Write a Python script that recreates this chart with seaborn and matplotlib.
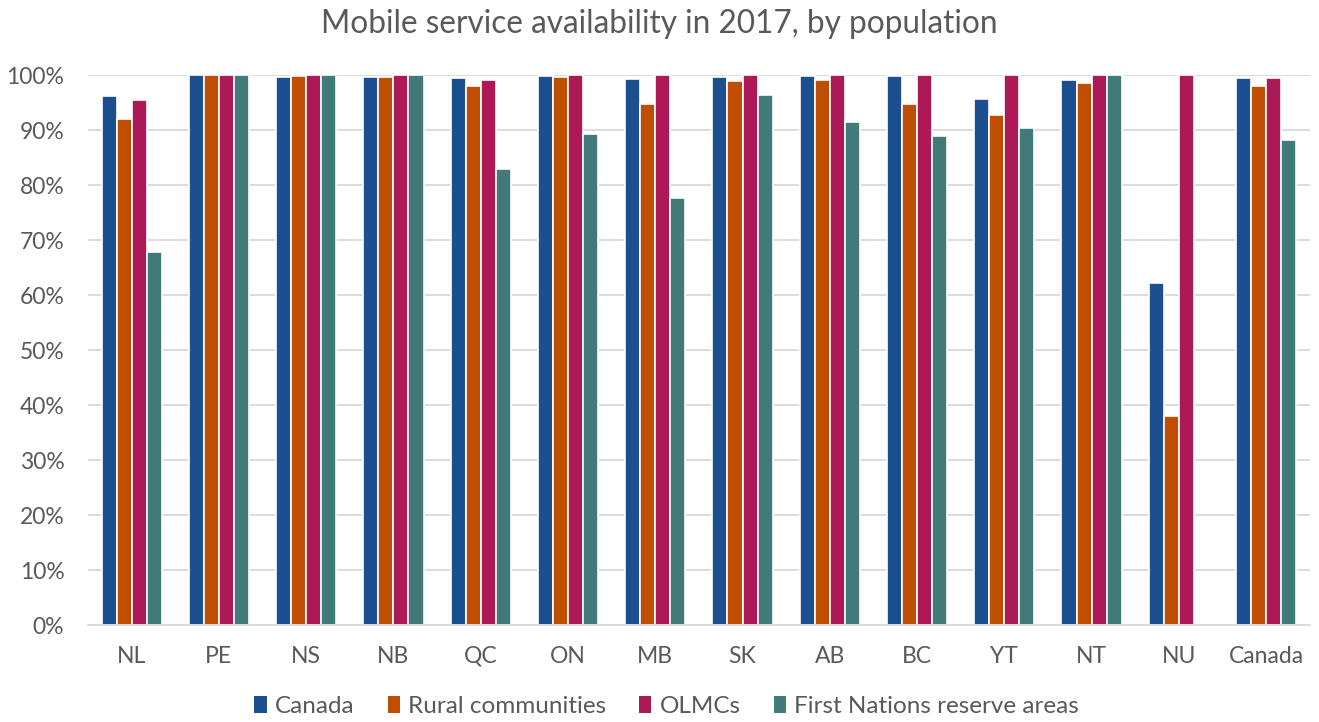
import numpy as np
import pandas as pd
import matplotlib
matplotlib.use("Agg")
import matplotlib.pyplot as plt
import seaborn as sns
from matplotlib.patches import Patch

# Provinces / territories and national total
regions = ["NL", "PE", "NS", "NB", "QC", "ON", "MB", "SK", "AB", "BC", "YT", "NT", "NU", "Canada"]

# Share of population with mobile service (%)
canada_pop = [96.2, 100.0, 99.7, 99.7, 99.4, 99.8, 99.2, 99.6, 99.9, 99.9, 95.6, 99.1, 62.2, 99.4]
rural_pop = [92.0, 100.0, 99.8, 99.6, 98.0, 99.6, 94.7, 99.0, 99.1, 94.8, 92.8, 98.6, 38.0, 98.0]
olmc_pop = [95.4, 100.0, 100.0, 100.0, 99.1, 100.0, 100.0, 100.0, 100.0, 100.0, 100.0, 100.0, 100.0, 99.5]
first_nations_pop = [67.9, 100.0, 100.0, 100.0, 82.9, 89.3, 77.6, 96.4, 91.5, 88.9, 90.4, 100.0, np.nan, 88.2]

series_names = ["Canada", "Rural communities", "OLMCs", "First Nations reserve areas"]
series_colors = ["#1B4F8F", "#BF4E00", "#AD1957", "#427A7A"]

df = pd.DataFrame({
    "region": regions * 4,
    "group": sum([[name] * len(regions) for name in series_names], []),
    "value": np.array(canada_pop + rural_pop + olmc_pop + first_nations_pop) / 100.0,
})

sns.set_theme(style="white")
plt.rcParams["font.family"] = ["Lato", "DejaVu Sans"]
text_color = "#595959"

fig = plt.figure(figsize=(13.19, 7.22), dpi=100)
ax = fig.add_axes([0.0667, 0.1343, 0.9263, 0.7617])

sns.barplot(data=df, x="region", y="value", hue="group", order=regions,
            hue_order=series_names, palette=series_colors, width=0.69,
            edgecolor="white", linewidth=1.2, saturation=1, ax=ax, legend=False)

ax.set_ylim(0, 1.0)
ax.set_xlim(-0.5, len(regions) - 0.5)
ax.set_yticks(np.arange(0, 1.01, 0.1))
ax.set_yticklabels([f"{int(round(v * 100))}%" for v in np.arange(0, 1.01, 0.1)])
ax.yaxis.grid(True, color="#D9D9D9", linewidth=1.3)
ax.set_axisbelow(True)
for side in ["top", "right", "left"]:
    ax.spines[side].set_visible(False)
ax.spines["bottom"].set_color("#D9D9D9")
ax.spines["bottom"].set_linewidth(1.3)
ax.tick_params(axis="both", length=0, labelsize=16.5, colors=text_color)
ax.tick_params(axis="x", pad=15)
ax.tick_params(axis="y", pad=17)
ax.set_xlabel("")
ax.set_ylabel("")

fig.suptitle("Mobile service availability in 2017, by population",
             x=0.5, y=0.988, fontsize=22.7, color=text_color)

handles = [Patch(facecolor=c, edgecolor="none") for c in series_colors]
leg = fig.legend(handles, series_names, loc="lower center", ncol=4,
                 bbox_to_anchor=(0.5055, -0.024), frameon=False, fontsize=17.5,
                 handlelength=0.5, handleheight=0.7, handletextpad=0.35,
                 columnspacing=1.35)
for t in leg.get_texts():
    t.set_color(text_color)

fig.savefig("out.png", dpi=100)
